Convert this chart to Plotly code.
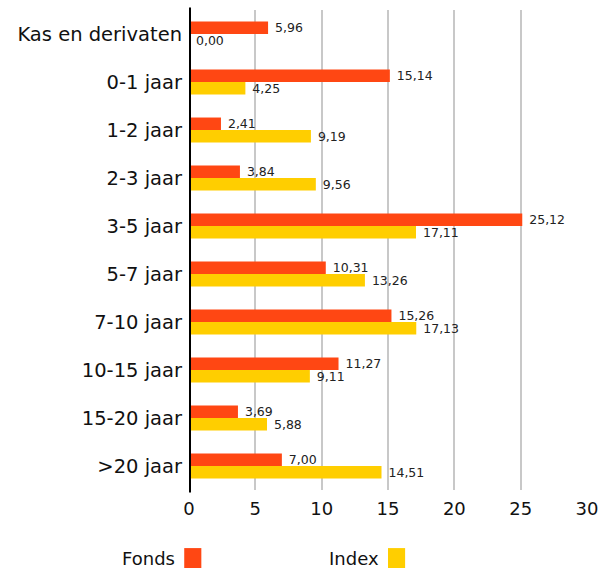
import plotly.graph_objects as go

categories = ["Kas en derivaten", "0-1 jaar", "1-2 jaar", "2-3 jaar", "3-5 jaar",
              "5-7 jaar", "7-10 jaar", "10-15 jaar", "15-20 jaar", ">20 jaar"]
fonds = [5.96, 15.14, 2.41, 3.84, 25.12, 10.31, 15.26, 11.27, 3.69, 7.00]
index = [0.00, 4.25, 9.19, 9.56, 17.11, 13.26, 17.13, 9.11, 5.88, 14.51]
x_ticks = [0, 5, 10, 15, 20, 25, 30]

RED = "#FF4713"
YEL = "#FFCE00"
FONT = "DejaVu Sans"

fig = go.Figure()
fig.add_trace(go.Bar(y=categories, x=fonds, orientation="h", name="Fonds",
                     marker=dict(color=RED, line=dict(width=0)),
                     texttemplate="\u00a0%{x:.2f}", textposition="outside",
                     constraintext="none", cliponaxis=False,
                     textfont=dict(size=12.5, color="#222", family=FONT)))
fig.add_trace(go.Bar(y=categories, x=index, orientation="h", name="Index",
                     marker=dict(color=YEL, line=dict(width=0)),
                     texttemplate="\u00a0%{x:.2f}", textposition="outside",
                     constraintext="none", cliponaxis=False,
                     textfont=dict(size=12.5, color="#222", family=FONT)))

fig.update_layout(
    width=608, height=571,
    margin=dict(l=189, r=21, t=10, b=81),
    paper_bgcolor="white", plot_bgcolor="white",
    barmode="group", bargap=0.48, bargroupgap=0,
    separators=",.",
    showlegend=False,
    font=dict(family=FONT, color="#111"),
    xaxis=dict(range=[0, 30], tickvals=x_ticks, showgrid=True, gridcolor="#c8c8c8",
               gridwidth=2, zeroline=False, showline=False, ticks="",
               tickfont=dict(size=18, color="#111"), ticklabelstandoff=6),
    yaxis=dict(autorange="reversed", showgrid=False, zeroline=False,
               showline=False, ticks="", tickfont=dict(size=19.5, color="#111"),
               ticklabelstandoff=6),
)
# zero axis line
fig.add_shape(type="line", xref="x", yref="paper", x0=0, x1=0, y0=-0.005, y1=1.005,
              line=dict(color="black", width=4), layer="above")

# custom legend (text left of swatch)
legend_items = [("Fonds", RED, -0.03), ("Index", YEL, 0.482)]
for name, col, px in legend_items:
    fig.add_annotation(xref="paper", yref="paper", x=px, y=-0.142, text=name,
                       showarrow=False, xanchor="right", yanchor="middle",
                       font=dict(size=18, color="#111", family=FONT))
    fig.add_shape(type="rect", xref="paper", yref="paper",
                  x0=px + 0.018, x1=px + 0.061, y0=-0.1625, y1=-0.121,
                  fillcolor=col, line=dict(width=0))

fig.write_html("out.html", config={"displayModeBar": False},
               post_script="document.body.style.margin='0';document.body.style.overflow='hidden';")
